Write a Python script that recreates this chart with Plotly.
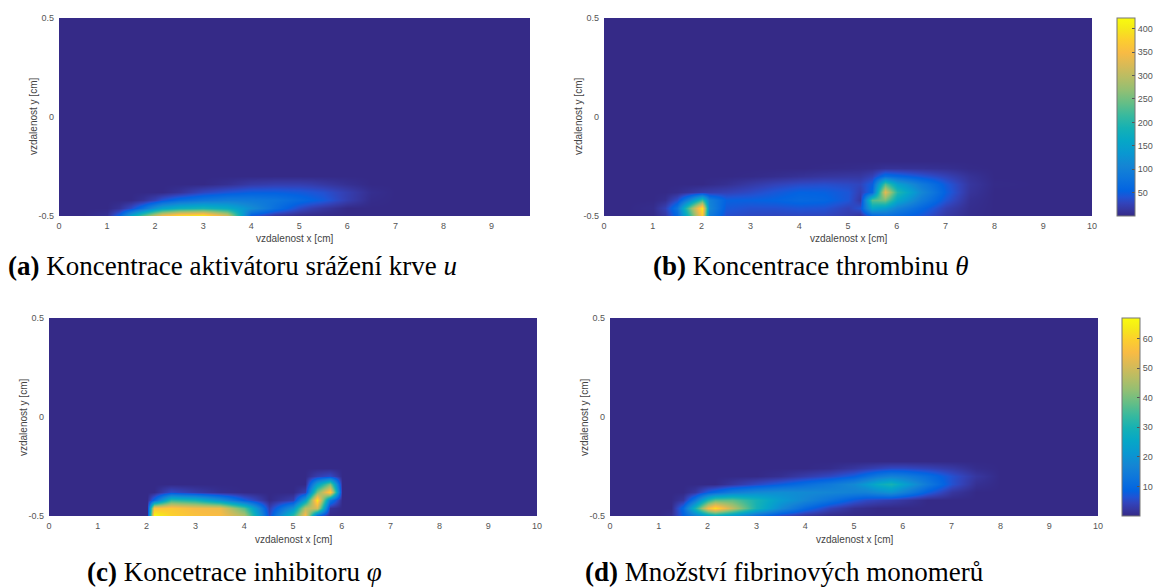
import plotly.graph_objects as go

W, H = 1154, 588

# ---- grid (cm) ----
X_CM = [0, 0.5, 1.0, 1.25, 1.5, 1.75, 2.0, 2.15, 2.5, 3.0, 3.5, 4.0, 4.5, 5.0,
        5.25, 5.5, 5.75, 6.0, 6.5, 7.0, 7.5, 8.0, 9.0, 10.0]
Y_CM = [-0.5, -0.46, -0.42, -0.38, -0.34, -0.30, -0.26, -0.22, 0.5]

# ---- (a) activator u (relative) ----
A_Y050 = [0, 0, 0.02, 0.14, 0.38, 0.58, 0.76, 0.86, 0.97, 1.0, 0.78, 0.10, 0.015, 0, 0, 0, 0, 0, 0, 0, 0, 0, 0, 0]
A_Y046 = [0, 0, 0, 0.02, 0.08, 0.18, 0.30, 0.36, 0.42, 0.45, 0.40, 0.28, 0.17, 0.08, 0.05, 0.03, 0.015, 0, 0, 0, 0, 0, 0, 0]
A_Y042 = [0, 0, 0, 0, 0, 0.02, 0.06, 0.10, 0.16, 0.20, 0.22, 0.21, 0.19, 0.15, 0.13, 0.11, 0.08, 0.05, 0.005, 0, 0, 0, 0, 0]
A_Y038 = [0, 0, 0, 0, 0, 0, 0, 0, 0.02, 0.07, 0.10, 0.12, 0.12, 0.11, 0.10, 0.09, 0.07, 0.05, 0.01, 0, 0, 0, 0, 0]
A_Y034 = [0, 0, 0, 0, 0, 0, 0, 0, 0, 0, 0.015, 0.04, 0.05, 0.05, 0.045, 0.035, 0.025, 0.015, 0, 0, 0, 0, 0, 0]
A_Y030 = [0] * 24
A_Y026 = [0] * 24
A_Y022 = [0] * 24
A_Y050T = [0] * 24

# ---- (b) thrombin theta ----
B_Y050 = [0, 0, 1, 15, 60, 200, 370, 90, 35, 30, 28, 28, 28, 20, 8, 50, 65, 60, 42, 15, 3, 0, 0, 0]
B_Y046 = [0, 0, 3, 24, 80, 240, 400, 110, 45, 38, 38, 42, 40, 25, 40, 160, 140, 100, 60, 22, 4, 0, 0, 0]
B_Y042 = [0, 0, 0, 5, 35, 110, 220, 100, 52, 52, 55, 62, 58, 42, 15, 230, 250, 160, 90, 40, 6, 0, 0, 0]
B_Y038 = [0, 0, 0, 0, 3, 10, 18, 20, 24, 32, 44, 54, 52, 42, 22, 60, 330, 200, 110, 50, 10, 0, 0, 0]
B_Y034 = [0, 0, 0, 0, 0, 0, 0, 2, 6, 16, 26, 33, 36, 32, 28, 50, 230, 150, 90, 45, 12, 1, 0, 0]
B_Y030 = [0, 0, 0, 0, 0, 0, 0, 0, 0, 1, 4, 8, 12, 14, 14, 25, 70, 60, 42, 25, 8, 0, 0, 0]
B_Y026 = [0, 0, 0, 0, 0, 0, 0, 0, 0, 0, 0, 0, 1, 2, 3, 4, 8, 8, 7, 5, 1, 0, 0, 0]
B_Y022 = [0] * 24
B_Y050T = [0] * 24

# ---- (c) inhibitor phi (relative) ----
C_Y050 = [0, 0, 0, 0, 0, 0, 0, 1.0, 0.90, 0.85, 0.83, 0.70, 0.08, 0.50, 0.85, 0.10, 0, 0, 0, 0, 0, 0, 0, 0]
C_Y046 = [0, 0, 0, 0, 0, 0, 0, 0.85, 0.87, 0.82, 0.80, 0.55, 0.05, 0.30, 0.70, 0.75, 0.02, 0, 0, 0, 0, 0, 0, 0]
C_Y042 = [0, 0, 0, 0, 0, 0, 0, 0.15, 0.50, 0.45, 0.30, 0.12, 0, 0.05, 0.35, 0.95, 0.20, 0, 0, 0, 0, 0, 0, 0]
C_Y038 = [0, 0, 0, 0, 0, 0, 0, 0, 0.08, 0.04, 0.01, 0, 0, 0, 0.05, 0.60, 0.90, 0, 0, 0, 0, 0, 0, 0]
C_Y034 = [0, 0, 0, 0, 0, 0, 0, 0, 0, 0, 0, 0, 0, 0, 0, 0.35, 0.60, 0, 0, 0, 0, 0, 0, 0]
C_Y030 = [0, 0, 0, 0, 0, 0, 0, 0, 0, 0, 0, 0, 0, 0, 0, 0.05, 0.08, 0, 0, 0, 0, 0, 0, 0]
C_Y026 = [0] * 24
C_Y022 = [0] * 24
C_Y050T = [0] * 24

# ---- (d) fibrin monomers ----
D_Y050 = [0, 0, 0, 1, 8, 15, 22, 24, 20, 10, 4, 1, 0, 0, 0, 0, 0, 0, 0, 0, 0, 0, 0, 0]
D_Y046 = [0, 0, 0, 0, 10, 30, 55, 62, 48, 30, 18, 10, 4, 1, 0.5, 0, 0, 0, 0, 0, 0, 0, 0, 0]
D_Y042 = [0, 0, 0, 0, 2, 14, 32, 38, 38, 30, 22, 17, 12, 7, 5, 4, 3, 2, 0, 0, 0, 0, 0, 0]
D_Y038 = [0, 0, 0, 0, 0, 2, 8, 10, 15, 18, 19, 18, 17, 16, 16, 18, 20, 16, 8, 2, 0, 0, 0, 0]
D_Y034 = [0, 0, 0, 0, 0, 0, 0, 0, 2, 5, 8, 11, 14, 18, 22, 27, 30, 24, 14, 6, 1, 0, 0, 0]
D_Y030 = [0, 0, 0, 0, 0, 0, 0, 0, 0, 0, 1, 3, 5, 8, 11, 14, 16, 15, 11, 6, 2, 0, 0, 0]
D_Y026 = [0, 0, 0, 0, 0, 0, 0, 0, 0, 0, 0, 0, 0.5, 2, 3, 4, 5, 5, 4, 2.5, 0.5, 0, 0, 0]
D_Y022 = [0] * 24
D_Y050T = [0] * 24

Z_A = [A_Y050, A_Y046, A_Y042, A_Y038, A_Y034, A_Y030, A_Y026, A_Y022, A_Y050T]
Z_B = [B_Y050, B_Y046, B_Y042, B_Y038, B_Y034, B_Y030, B_Y026, B_Y022, B_Y050T]
Z_C = [C_Y050, C_Y046, C_Y042, C_Y038, C_Y034, C_Y030, C_Y026, C_Y022, C_Y050T]
Z_D = [D_Y050, D_Y046, D_Y042, D_Y038, D_Y034, D_Y030, D_Y026, D_Y022, D_Y050T]

B_TICKS = [50, 100, 150, 200, 250, 300, 350, 400]
D_TICKS = [10, 20, 30, 40, 50, 60]

CAPTIONS = [
    "<b>(a)</b> Koncentrace aktivátoru srážení krve <i>u</i>",
    "<b>(b)</b> Koncentrace thrombinu <i>θ</i>",
    "<b>(c)</b> Koncetrace inhibitoru <i>φ</i>",
    "<b>(d)</b> Množství fibrinových monomerů",
]

PARULA_RGB = [
    (0, (0.2081, 0.1663, 0.5292)), (2, (0.2123, 0.2138, 0.6270)),
    (4, (0.1959, 0.2645, 0.7279)), (6, (0.1253, 0.3242, 0.8303)),
    (8, (0.0117, 0.3875, 0.8820)), (12, (0.0498, 0.4586, 0.8641)),
    (16, (0.0793, 0.5200, 0.8312)), (20, (0.0343, 0.5966, 0.8199)),
    (24, (0.0228, 0.6535, 0.7768)), (28, (0.0843, 0.6928, 0.7062)),
    (32, (0.2178, 0.7250, 0.6193)), (36, (0.3953, 0.7459, 0.5244)),
    (40, (0.5709, 0.7485, 0.4494)), (44, (0.7184, 0.7411, 0.3905)),
    (48, (0.8507, 0.7299, 0.3360)), (52, (0.9739, 0.7314, 0.2666)),
    (56, (0.9880, 0.8066, 0.1794)), (60, (0.9598, 0.9218, 0.0948)),
    (63, (0.9763, 0.9831, 0.0538)),
]
PARULA = [[i / 63, "rgb(%d,%d,%d)" % tuple(round(c * 255) for c in rgb)] for i, rgb in PARULA_RGB]

# panel geometry in pixels: left, right, top, bottom, x max
PANELS = {
    "a": (59, 530, 18, 216, 9.8),
    "b": (604, 1092, 18, 216, 10),
    "c": (49, 537, 318, 516, 10),
    "d": (610, 1098, 318, 516, 10),
}

def px(x):
    return x / W

def py(y):
    return 1 - y / H

TICK_FONT = dict(family="Liberation Sans", size=9, color="#555555")
LABEL_FONT = dict(family="Liberation Sans", size=10, color="#444444")

fig = go.Figure()
layout = dict(
    width=W, height=H, margin=dict(l=0, r=0, t=0, b=0, autoexpand=False),
    paper_bgcolor="white", plot_bgcolor="white", showlegend=False,
)

data = [("a", Z_A, 0, 1, None), ("b", Z_B, 0, 423, B_TICKS),
        ("c", Z_C, 0, 1, None), ("d", Z_D, 0, 67, D_TICKS)]

annotations = []
for k, (name, z, zmin, zmax, cticks) in enumerate(data):
    l, r, t, b, xmax = PANELS[name]
    suf = "" if k == 0 else str(k + 1)
    tr = go.Heatmap(
        x=X_CM, y=Y_CM, z=z, zmin=zmin, zmax=zmax, zsmooth="best",
        colorscale=PARULA, xaxis="x" + suf, yaxis="y" + suf,
        showscale=cticks is not None, hoverinfo="skip",
    )
    if cticks is not None:
        tr.colorbar = dict(
            x=px(r + 25 if name == "b" else r + 24), xanchor="left", xpad=0, ypad=0,
            y=py((t + b) / 2), yanchor="middle", len=(b - t) / H, lenmode="fraction",
            thickness=18, thicknessmode="pixels", outlinecolor="#777777", outlinewidth=1,
            tickvals=cticks, ticks="inside", ticklen=3, tickcolor="#555555",
            tickfont=TICK_FONT,
        )
    fig.add_trace(tr)
    xticks = list(range(0, int(xmax) + 1))
    layout["xaxis" + suf] = dict(
        domain=[px(l), px(r)], range=[0, xmax], anchor="y" + suf,
        tickvals=xticks, ticktext=[str(v) for v in xticks], tickfont=TICK_FONT,
        ticks="", showgrid=False, zeroline=False, showline=False,
        ticklabelstandoff=3, fixedrange=True,
    )
    layout["yaxis" + suf] = dict(
        domain=[py(b), py(t)], range=[-0.5, 0.5], anchor="x" + suf,
        tickvals=[-0.5, 0, 0.5], ticktext=["-0.5", "0", "0.5"], tickfont=TICK_FONT,
        ticks="", showgrid=False, zeroline=False, showline=False,
        ticklabelstandoff=4, fixedrange=True,
    )
    annotations.append(dict(
        text="vzdalenost x [cm]", xref="paper", yref="paper",
        x=px((l + r) / 2), y=py(b + 23), xanchor="center", yanchor="middle",
        showarrow=False, font=LABEL_FONT,
    ))
    annotations.append(dict(
        text="vzdalenost y [cm]", xref="paper", yref="paper", textangle=-90,
        x=px(l - 26), y=py((t + b) / 2), xanchor="center", yanchor="middle",
        showarrow=False, font=LABEL_FONT,
    ))

CAP_POS = [(232, 266), (810, 266), (234, 572), (784, 572)]
for text, (cx, cy) in zip(CAPTIONS, CAP_POS):
    annotations.append(dict(
        text=text, xref="paper", yref="paper", x=px(cx), y=py(cy),
        xanchor="center", yanchor="middle", showarrow=False,
        font=dict(family="Liberation Serif", size=27, color="black"),
    ))

layout["annotations"] = annotations
fig.update_layout(**layout)
fig.write_html(
    "out.html",
    config={"displayModeBar": False, "staticPlot": True},
    post_script="document.body.style.margin='0';document.body.style.overflow='hidden';",
)
